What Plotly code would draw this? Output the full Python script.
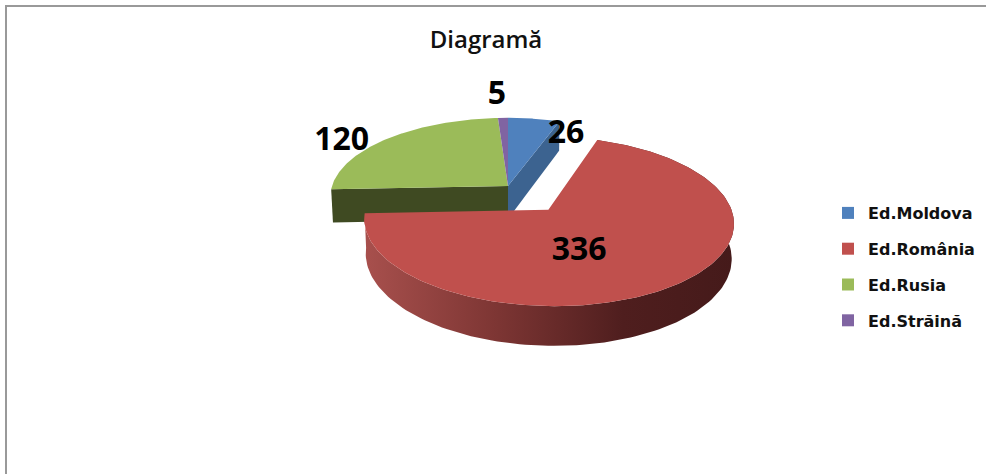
import numpy as np
import plotly.graph_objects as go

categories = ["Ed.Moldova", "Ed.România", "Ed.Rusia", "Ed.Străină"]
values = [26, 336, 120, 5]
top_colors = ["#4F81BD", "#C0504D", "#9BBB59", "#8064A2"]
cut_colors = ["#3C6390", None, "#3F4A22", None]
exploded = [0.0, 0.37, 0.0, 0.0]
label_offsets = [(0.36, 0.72), (0.143, -0.473), (-1.02, 0.61), (-0.075, 1.38)]

CX, CY = 508.0, 186.0
RX, RY, PERSP, DEPTH, BASE = 176.0, 77.0, 0.13, 33.0, 0.99


def project(X, Z, bottom=False):
    X, Z = np.asarray(X, float), np.asarray(Z, float)
    d = 1 + PERSP * Z
    s = BASE if bottom else 1.0
    return CX + s * RX * X / d, CY - (RY * Z - (DEPTH if bottom else 0.0)) / d


total = sum(values)
edges = np.concatenate([[0], np.cumsum(values)]) / total * 2 * np.pi
fig = go.Figure()


def poly(xs, ys, color):
    fig.add_trace(go.Scatter(
        x=np.asarray(xs), y=np.asarray(ys), mode="lines", fill="toself",
        fillcolor=color, line=dict(width=0), hoverinfo="skip", showlegend=False))


def slice_geom(i):
    th = np.linspace(edges[i], edges[i + 1], 160)
    mid = (edges[i] + edges[i + 1]) / 2
    return th, exploded[i] * np.sin(mid), exploded[i] * np.cos(mid)


def cut_face(i, angle):
    _, ox, oz = slice_geom(i)
    ax_t, ay_t = project([ox], [oz])
    ax_b, ay_b = project([ox], [oz], True)
    ox_t, oy_t = project([ox + np.sin(angle)], [oz + np.cos(angle)])
    ox_b, oy_b = project([ox + np.sin(angle)], [oz + np.cos(angle)], True)
    poly([ax_t[0], ox_t[0], ox_b[0], ax_b[0]], [ay_t[0], oy_t[0], oy_b[0], ay_b[0]], cut_colors[i])


# Rear slices: cut faces, then tops
cut_face(0, edges[1])
cut_face(2, edges[2])
for i in (0, 2, 3):
    th, ox, oz = slice_geom(i)
    xs, ys = project(np.r_[ox, ox + np.sin(th)], np.r_[oz, oz + np.cos(th)])
    poly(xs, ys, top_colors[i])

# Exploded slice: outer wall with a horizontal gradient, then its top
th, ox, oz = slice_geom(1)
tx, ty = project(ox + np.sin(th), oz + np.cos(th))
bx, by = project(ox + np.sin(th), oz + np.cos(th), True)
fig.add_trace(go.Scatter(
    x=np.r_[tx, bx[::-1]], y=np.r_[ty, by[::-1]], mode="lines", fill="toself",
    fillcolor="#4A1C1C", line=dict(width=0), hoverinfo="skip", showlegend=False,
    fillgradient=dict(type="horizontal", colorscale=[
        [0.0, "#A8504D"], [0.35, "#7E3634"], [0.7, "#4F1E1E"], [1.0, "#451A1A"]]),
))
xs, ys = project(np.r_[ox, ox + np.sin(th)], np.r_[oz, oz + np.cos(th)])
poly(xs, ys, top_colors[1])

# Data labels, placed relative to each slice's apex
for i, v in enumerate(values):
    _, ox, oz = slice_geom(i)
    lx, ly = project([ox + label_offsets[i][0]], [oz + label_offsets[i][1]])
    fig.add_trace(go.Scatter(
        x=lx, y=ly, mode="text", text=[str(v)], textposition="middle center",
        textfont=dict(family="Open Sans", size=32, color="#000000", weight="bold"),
        hoverinfo="skip", showlegend=False))

# Legend entries
for name, col in zip(categories, top_colors):
    fig.add_trace(go.Scatter(
        x=[None], y=[None], mode="markers", name=name, legendgroup=name,
        marker=dict(symbol="square", size=12, color=col)))

fig.update_layout(
    width=986, height=474, margin=dict(l=0, r=0, t=0, b=0),
    paper_bgcolor="white", plot_bgcolor="white",
    xaxis=dict(range=[0, 986], visible=False, fixedrange=True),
    yaxis=dict(range=[474, 0], visible=False, fixedrange=True),
    title=dict(text="Diagramă", x=486 / 986, y=1 - 40 / 474, xanchor="center", yanchor="middle",
               font=dict(family="Open Sans", size=24, color="#111111", weight=600)),
    legend=dict(x=828 / 986, y=1 - 196 / 474, xanchor="left", yanchor="top",
                tracegroupgap=12, itemsizing="constant",
                font=dict(family="DejaVu Sans", size=16, color="#111111", weight="bold"),
                bgcolor="rgba(0,0,0,0)"),
    shapes=[
        dict(type="line", xref="paper", yref="paper", x0=6 / 986, x1=6 / 986, y0=0, y1=1 - 6 / 474,
             line=dict(color="#999999", width=2)),
        dict(type="line", xref="paper", yref="paper", x0=5 / 986, x1=1, y0=1 - 6 / 474, y1=1 - 6 / 474,
             line=dict(color="#999999", width=2)),
    ],
)
fig.write_html("out.html", config=dict(displayModeBar=False),
               post_script="document.body.style.margin='0';document.body.style.overflow='hidden';")
